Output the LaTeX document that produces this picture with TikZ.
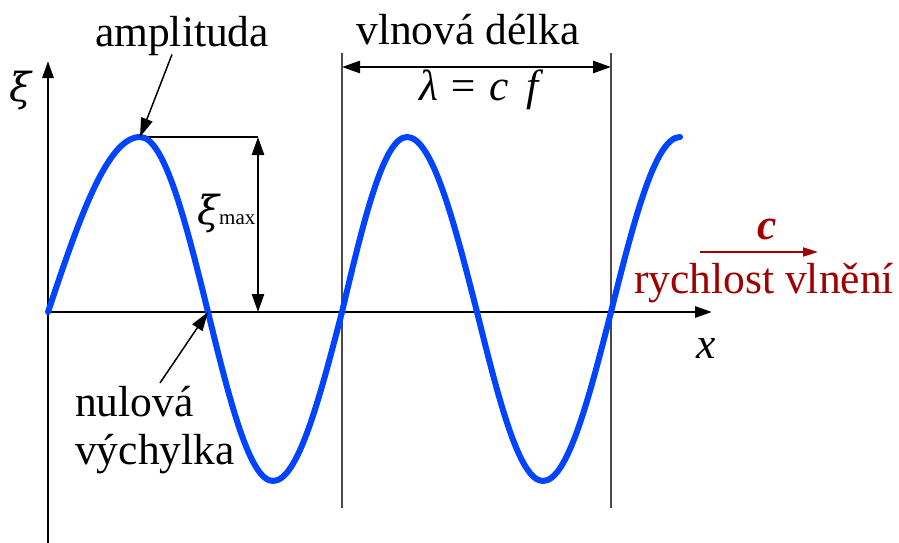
\documentclass[tikz,border=0pt]{standalone}
\usepackage{fontspec}
\setmainfont{Liberation Serif}
\newfontfamily\greekit{DejaVu Serif}
\usetikzlibrary{arrows.meta, positioning}
\definecolor{waveBlue}{HTML}{0044FF}
\definecolor{speedRed}{HTML}{A00000}
\definecolor{guideGray}{HTML}{4A4A4A}
\tikzset{
  axisArrow/.style={-{Triangle[length=17pt, width=11pt]}, line width=2.8pt},
  dimArrow/.style={{Triangle[length=18pt, width=12pt]}-{Triangle[length=18pt, width=12pt]},
                   line width=2.6pt},
  pointer/.style={-{Triangle[length=19pt, width=12pt]}, line width=1.5pt},
  guide/.style={guideGray, line width=1.3pt},
  wave/.style={waveBlue, line width=6pt, line cap=round, line join=round},
  lbl/.style={font=\fontsize{43.5}{48}\selectfont, inner sep=0pt},
}

\begin{document}
\begin{tikzpicture}[x=1pt, y=-1pt]
    \useasboundingbox (0,0) rectangle (899,543);
    % points on the wave
    \coordinate (o)  at (48,312);
    \coordinate (p1) at (140,137);
    \coordinate (z1) at (208,312);
    \coordinate (t1) at (273,481);
    \coordinate (z2) at (342,312);
    \coordinate (p2) at (407,137);
    \coordinate (z3) at (477,312);
    \coordinate (t2) at (543,481);
    \coordinate (z4) at (611,312);
    \coordinate (p3) at (680,137);
    % axes
    \coordinate (yTop) at (48,61);
    \coordinate (yBot) at (48,543);
    \coordinate (xEnd) at (712,312);
    \draw[axisArrow] (yBot) -- (yTop);
    \draw[axisArrow] (o) -- (xEnd);
    \node[lbl, font=\fontsize{40}{48}\selectfont\greekit\itshape] (xiAxis) at (21,90) {ξ};
    \node[lbl, font=\fontsize{43.5}{48}\selectfont\itshape] (xAxis) at (706,349) {x};
    % wavelength
    \coordinate (g1Top) at (342,53);
    \coordinate (g1Bot) at (342,508);
    \coordinate (g2Top) at (611,53);
    \coordinate (g2Bot) at (611,508);
    \draw[guide] (g1Top) -- (g1Bot);
    \draw[guide] (g2Top) -- (g2Bot);
    \coordinate (lamL) at (342,67);
    \coordinate (lamR) at (611,67);
    \draw[dimArrow] (lamL) -- (lamR);
    \node[lbl, anchor=base] (wlen) at (468,45) {vlnová délka};
    \node[lbl, anchor=base] (lam) at (479,100) {\itshape λ = c\, f};
    % amplitude
    \coordinate (ampTop) at (258,137);
    \coordinate (ampBot) at (258,312);
    \draw[line width=1.5pt] (p1) -- (ampTop);
    \draw[dimArrow] (ampTop) -- (ampBot);
    \node[lbl, anchor=base west] (xiMax) at (197,224)
      {{\greekit\itshape\fontsize{40}{48}\selectfont ξ}\fontsize{21}{24}\selectfont max};
    \node[lbl, anchor=base] (ampl) at (182,47) {amplituda};
    % the wave itself
    \draw[wave] (o) sin (p1) cos (z1) sin (t1) cos (z2) sin (p2) cos (z3) sin (t2) cos (z4) sin (p3);
    \draw[pointer] ([xshift=-10pt, yshift=2pt]ampl.south) -- (p1);
    % zero crossing
    \node[lbl, align=left, anchor=north west] (nul) at (75,386) {nulová\\výchylka};
    \coordinate (nulTail) at (160,383);
    \draw[pointer] (nulTail) -- (z1);
    % speed
    \node[lbl, text=speedRed, font=\fontsize{43.5}{48}\selectfont\bfseries\itshape] (cSym) at (767,229) {c};
    \coordinate (cTail) at (700,252);
    \coordinate (cHead) at (818,252);
    \draw[speedRed, line width=2pt, -{Triangle[length=15pt, width=9pt]}] (cTail) -- (cHead);
    \node[lbl, text=speedRed, anchor=base] (speed) at (764,293) {rychlost vlnění};
\end{tikzpicture}
\end{document}
